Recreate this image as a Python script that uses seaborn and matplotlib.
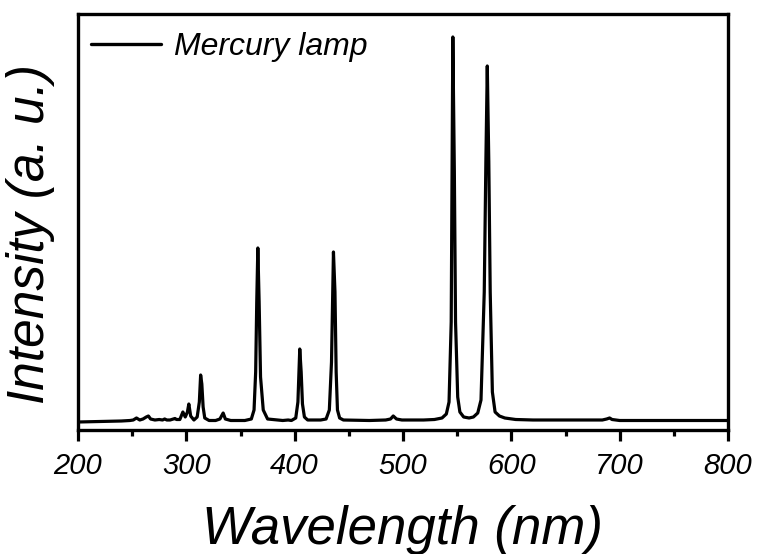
import matplotlib
matplotlib.use("Agg")
import matplotlib.pyplot as plt
import seaborn as sns
import pandas as pd
from matplotlib.ticker import MultipleLocator

# Spectrum (intensity in arbitrary units, baseline ~0)
wavelength = [200, 220, 240, 248, 251, 254, 257, 260, 263, 265, 267, 271, 275, 278, 280, 282,
              285, 288, 289.5, 291, 294, 296.8, 299, 301, 302.3, 304, 307, 310, 312, 313.2, 314.3,
              315.5, 317, 321, 327, 331, 334, 336, 341, 354, 360, 362.5, 364, 365, 366, 367.2,
              368.5, 371, 375, 389, 394, 397, 401, 403, 404.7, 406, 407.2, 409, 412, 424, 429,
              432, 434, 435.8, 437.2, 438.3, 439.5, 441.5, 445, 469, 484, 488.5, 491, 494, 499,
              519, 529, 536, 540, 542.5, 544.5, 546, 547.4, 548.5, 550.5, 552.5, 556, 561, 565,
              569, 572, 575, 576.5, 577.8, 579.2, 580.5, 582.5, 585, 589, 594, 604, 620, 660,
              684, 688, 690.7, 693, 700, 750, 800]
intensity = [0, 0.5, 1, 1.5, 2, 4, 2, 3, 5, 6, 3, 2, 2.5, 2, 3, 2,
             2, 3, 3.5, 2.5, 2.5, 10, 5, 10, 18, 6, 2, 5, 20, 47, 38,
             15, 4, 1.5, 1.5, 3, 9, 3, 1.5, 1.5, 3, 12, 50, 120, 174, 120,
             45, 12, 3, 1.5, 2, 1.5, 4, 20, 73, 50, 18, 5, 2, 2, 3,
             12, 60, 170, 130, 50, 12, 4, 2, 1.5, 2, 3, 6, 3, 2,
             2, 2.5, 4, 8, 20, 100, 385, 250, 100, 25, 10, 5, 4, 5,
             9, 22, 130, 260, 356, 260, 130, 30, 10, 6, 4, 2.5, 2, 2,
             2, 3, 4, 2.5, 1.5, 1.5, 1.5]
series_name = "Mercury lamp"
x_ticks = [200, 300, 400, 500, 600, 700, 800]

df = pd.DataFrame({"Wavelength": wavelength, "Intensity": intensity})

sns.set_theme(style="ticks")
plt.rcParams["font.family"] = ["Liberation Sans", "DejaVu Sans"]
plt.rcParams["text.color"] = "black"
plt.rcParams["axes.labelcolor"] = "black"
plt.rcParams["xtick.color"] = "black"
plt.rcParams["xtick.labelcolor"] = "black"

fig = plt.figure(figsize=(7.58, 5.54), dpi=100)
ax = fig.add_axes([78 / 758, 1 - 430 / 554, 650 / 758, 416 / 554])

sns.lineplot(data=df, x="Wavelength", y="Intensity", ax=ax, color="black",
             linewidth=2.3, label=series_name, sort=False)

ax.set_xlim(200, 800)
ax.set_ylim(-8, 408)
ax.set_xticks(x_ticks)
ax.xaxis.set_minor_locator(MultipleLocator(50))
ax.set_yticks([])

for sp in ax.spines.values():
    sp.set_linewidth(2.4)
    sp.set_color("black")
    sp.set_visible(True)

ax.tick_params(axis="x", which="major", direction="out", length=8, width=2.3,
               pad=8, labelsize=21, colors="black", labelcolor="black")
ax.tick_params(axis="x", which="minor", direction="out", length=4.5, width=2.3, colors="black")
for lbl in ax.get_xticklabels():
    lbl.set_fontstyle("italic")
    lbl.set_color("black")

ax.set_xlabel("Wavelength (nm)", fontsize=38, fontstyle="italic", color="black")
ax.set_ylabel("Intensity (a. u.)", fontsize=37, fontstyle="italic", color="black")
ax.xaxis.set_label_coords(0.5, -0.18)
ax.yaxis.set_label_coords(-0.036, 0.47)

leg = ax.legend(loc="upper left", frameon=False, fontsize=23, handlelength=2.2,
                handletextpad=0.4, borderaxespad=0.0, bbox_to_anchor=(0.0, 0.988))
for t in leg.get_texts():
    t.set_fontstyle("italic")
    t.set_color("black")
for h in leg.get_lines():
    h.set_linewidth(2.4)

fig.savefig("out.png", dpi=100)
